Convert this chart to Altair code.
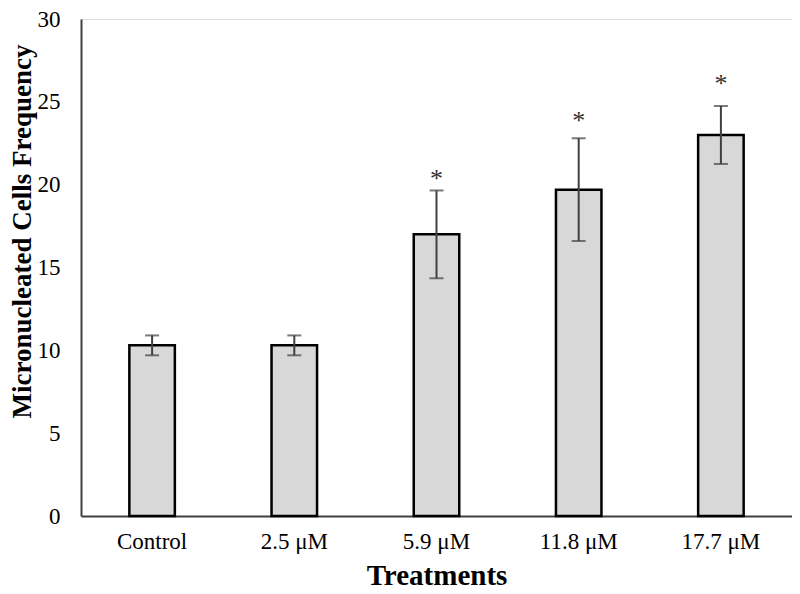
import altair as alt
import pandas as pd

treatments = ["Control", "2.5 μM", "5.9 μM", "11.8 μM", "17.7 μM"]
means = [10.3, 10.3, 17.0, 19.7, 23.0]
errors = [0.6, 0.6, 2.65, 3.1, 1.75]
sig_marks = ["", "", "*", "*", "*"]
sig_y = [None, None, 20.6, 24.1, 26.3]
y_ticks = [0, 5, 10, 15, 20, 25, 30]

df = pd.DataFrame({
    "treatment": treatments,
    "mean": means,
    "err": errors,
    "sig": sig_marks,
    "sig_y": sig_y,
})
df["lo"] = df["mean"] - df["err"]
df["hi"] = df["mean"] + df["err"]

FONT = "Liberation Serif"

x_enc = alt.X(
    "treatment:N",
    sort=treatments,
    scale=alt.Scale(paddingInner=0.68, paddingOuter=0.34),
    axis=alt.Axis(
        title="Treatments", labelAngle=0, ticks=False,
        domainColor="#404040", domainWidth=2,
        labelFont=FONT, labelFontSize=23, labelColor="black", labelPadding=14,
        titleFont=FONT, titleFontSize=29, titleFontWeight="bold", titleColor="black",
        titlePadding=8,
    ),
)

y_scale = alt.Scale(domain=[0, 30], nice=False)

bars = alt.Chart(df).mark_bar(
    fill="#d8d8d8", stroke="black", strokeWidth=2.5
).encode(
    x=x_enc,
    y=alt.Y(
        "mean:Q", scale=y_scale,
        axis=alt.Axis(
            values=y_ticks, grid=False, ticks=False,
            domainColor="#404040", domainWidth=2,
            labelFont=FONT, labelFontSize=23, labelColor="black", labelPadding=21,
            title="Micronucleated Cells Frequency",
            titleFont=FONT, titleFontSize=27, titleFontWeight="bold", titleColor="black",
            titleAngle=-90, titleX=-51, titleY=212, titleAlign="center",
            titleBaseline="alphabetic",
        ),
    ),
)

rules = alt.Chart(df).mark_rule(color="#404040", strokeWidth=2).encode(
    x=alt.X("treatment:N", sort=treatments),
    y=alt.Y("lo:Q", scale=y_scale),
    y2="hi:Q",
)

caps_hi = alt.Chart(df).mark_tick(color="#404040", thickness=2, size=14).encode(
    x=alt.X("treatment:N", sort=treatments),
    y=alt.Y("hi:Q", scale=y_scale),
)
caps_lo = alt.Chart(df).mark_tick(color="#404040", thickness=2, size=14).encode(
    x=alt.X("treatment:N", sort=treatments),
    y=alt.Y("lo:Q", scale=y_scale),
)

stars = alt.Chart(df).transform_filter("datum.sig != ''").mark_text(
    font=FONT, fontSize=26, color="#333333", baseline="middle", dy=4
).encode(
    x=alt.X("treatment:N", sort=treatments),
    y=alt.Y("sig_y:Q", scale=y_scale),
    text="sig:N",
)

chart = alt.layer(bars, rules, caps_hi, caps_lo, stars).properties(
    width=711, height=497,
    autosize=alt.AutoSizeParams(type="none"),
    padding={"left": 73, "top": 11, "right": 0, "bottom": 78},
).configure_view(stroke=None).configure(background="white")

chart.save("out.html", embed_options={"renderer": "svg", "actions": False})
